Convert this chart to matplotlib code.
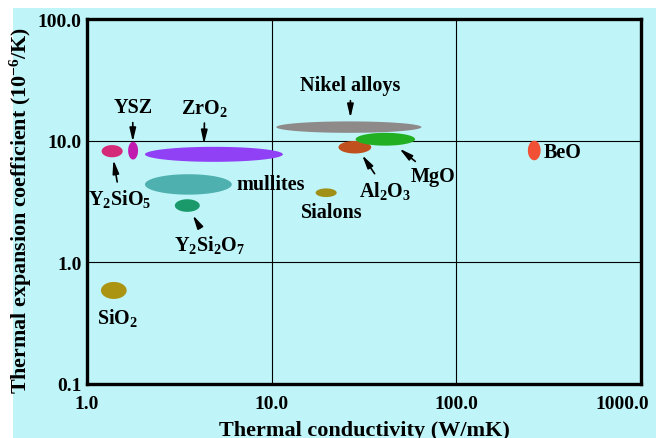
import numpy as np
import matplotlib.pyplot as plt
from matplotlib.patches import Rectangle
import matplotlib.transforms as mtransforms

plt.rcParams['font.family'] = ['Liberation Serif', 'DejaVu Serif']
plt.rcParams['font.weight'] = 'bold'
plt.rcParams['mathtext.fontset'] = 'custom'
plt.rcParams['mathtext.rm'] = 'Liberation Serif:bold'
plt.rcParams['mathtext.it'] = 'Liberation Serif:bold'
plt.rcParams['mathtext.bf'] = 'Liberation Serif:bold'
plt.rcParams['mathtext.default'] = 'rm'

# material property ranges: thermal conductivity (W/mK), expansion coeff (1e-6/K)
materials = ['Nikel alloys', 'Y2SiO5', 'YSZ', 'ZrO2', 'mullites', 'Y2Si2O7',
             'Al2O3', 'MgO', 'Sialons', 'BeO', 'SiO2']
k_lo = [10.6, 1.20, 1.67, 2.06, 2.06, 2.99, 23.0, 28.5, 17.3, 244, 1.19]
k_hi = [64.7, 1.56, 1.89, 11.5, 6.08, 4.08, 34.6, 59.8, 22.5, 286, 1.64]
a_lo = [11.6, 7.3, 7.0, 6.7, 3.6, 2.6, 7.85, 9.1, 3.44, 6.9, 0.50]
a_hi = [14.4, 9.2, 9.8, 8.9, 5.3, 3.3, 9.95, 11.6, 4.05, 10.0, 0.69]
colors = ['#8e8a8a', '#d52a78', '#c11aae', '#9040f5', '#4fb0b0', '#1a9a6a',
          '#c0501e', '#22b022', '#a09018', '#f25035', '#ab9412']

# tick labels
xticks = [1, 10, 100, 1000]
xticklabels = ['1.0', '10.0', '100.0', '1000.0']
yticks = [0.1, 1, 10, 100]
yticklabels = ['0.1', '1.0', '10.0', '100.0']

bg = '#bff5f8'
fig = plt.figure(figsize=(6.69, 4.39), dpi=100, facecolor='white')
fig.add_artist(Rectangle((13/669, 0), 643/669, 430/439, transform=fig.transFigure,
                         facecolor=bg, edgecolor='none', zorder=-10))
ax = fig.add_axes([87/669, 1-385/439, 554/669, 365/439])
ax.set_facecolor(bg)
ax.set_xscale('log')
ax.set_yscale('log')
ax.set_xlim(1, 1000)
ax.set_ylim(0.1, 100)

# ellipses drawn in log space
t = np.linspace(0, 2*np.pi, 200)
for i in range(len(materials)):
    cx = (np.log10(k_lo[i]) + np.log10(k_hi[i])) / 2
    hx = (np.log10(k_hi[i]) - np.log10(k_lo[i])) / 2
    cy = (np.log10(a_lo[i]) + np.log10(a_hi[i])) / 2
    hy = (np.log10(a_hi[i]) - np.log10(a_lo[i])) / 2
    ax.fill(10**(cx + hx*np.cos(t)), 10**(cy + hy*np.sin(t)), color=colors[i], lw=0, zorder=3)

# labels: text, text position, arrow target (None = no arrow), alignment
labels = [
    ('YSZ', (1.77, 18.9), (1.77, 9.8), 'center'),
    ('ZrO$_2$', (4.34, 18.9), (4.30, 9.4), 'center'),
    ('Y$_2$SiO$_5$', (1.51, 3.35), (1.39, 6.95), 'center'),
    ('mullites', (6.47, 4.42), None, 'left'),
    ('Y$_2$Si$_2$O$_7$', (4.62, 1.42), (3.74, 2.44), 'center'),
    ('SiO$_2$', (1.47, 0.357), None, 'center'),
    ('Nikel alloys', (26.7, 28.6), (26.7, 15.4), 'center'),
    ('Sialons', (21.1, 2.58), None, 'center'),
    ('Al$_2$O$_3$', (41.3, 3.95), (30.9, 7.6), 'center'),
    ('MgO', (75.1, 5.13), (49.2, 8.6), 'center'),
    ('BeO', (299, 8.0), None, 'left'),
]
for txt, pos, target, ha in labels:
    if target is None:
        ax.text(pos[0], pos[1], txt, ha=ha, va='center', fontsize=14.5,
                fontweight='bold', zorder=5)
    else:
        ax.annotate(txt, xy=target, xytext=pos, ha=ha, va='center', fontsize=14.5,
                    fontweight='bold', zorder=5,
                    arrowprops=dict(arrowstyle='-|>,head_width=0.13,head_length=0.55',
                                    color='black', lw=1.2, shrinkA=2, shrinkB=0))

ax.set_xticks(xticks)
ax.set_xticklabels(xticklabels)
ax.set_yticks(yticks)
ax.set_yticklabels(yticklabels)
ax.minorticks_off()
ax.tick_params(length=0, labelsize=14)
ax.tick_params(axis='x', pad=8)
ax.tick_params(axis='y', pad=4)
for lbl in ax.get_xticklabels() + ax.get_yticklabels():
    lbl.set_fontweight('bold')
last = ax.get_xticklabels()[-1]
last.set_transform(last.get_transform() + mtransforms.ScaledTranslation(-19/100, 0, fig.dpi_scale_trans))

ax.grid(True, which='major', color='black', lw=0.8)
ax.set_axisbelow(True)
for s in ax.spines.values():
    s.set_linewidth(2.4)
    s.set_zorder(6)

ax.set_xlabel('Thermal conductivity (W/mK)', fontsize=16, fontweight='bold', labelpad=5.5)
ax.set_ylabel('Thermal expansion coefficient (10$^{-6}$/K)', fontsize=15.8, fontweight='bold')
ax.yaxis.set_label_coords(-0.095, 0.477)

plt.savefig('out.png', dpi=100, facecolor=fig.get_facecolor())
